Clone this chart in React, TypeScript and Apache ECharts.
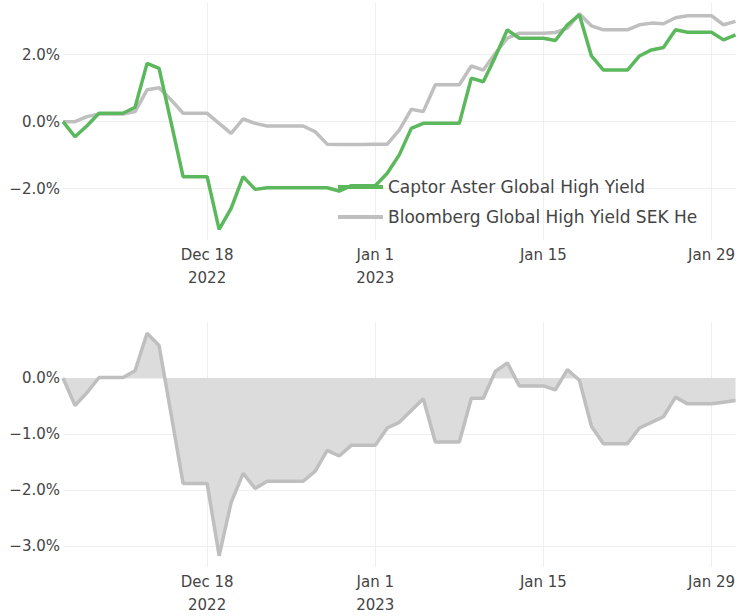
import React, { useEffect, useRef } from "react";
import * as echarts from "echarts";

const dates: string[] = [
  "2022-12-06", "2022-12-07", "2022-12-08", "2022-12-09", "2022-12-10", "2022-12-11", "2022-12-12",
  "2022-12-13", "2022-12-14", "2022-12-15", "2022-12-16", "2022-12-17", "2022-12-18", "2022-12-19",
  "2022-12-20", "2022-12-21", "2022-12-22", "2022-12-23", "2022-12-24", "2022-12-25", "2022-12-26",
  "2022-12-27", "2022-12-28", "2022-12-29", "2022-12-30", "2022-12-31", "2023-01-01", "2023-01-02",
  "2023-01-03", "2023-01-04", "2023-01-05", "2023-01-06", "2023-01-07", "2023-01-08", "2023-01-09",
  "2023-01-10", "2023-01-11", "2023-01-12", "2023-01-13", "2023-01-14", "2023-01-15", "2023-01-16",
  "2023-01-17", "2023-01-18", "2023-01-19", "2023-01-20", "2023-01-21", "2023-01-22", "2023-01-23",
  "2023-01-24", "2023-01-25", "2023-01-26", "2023-01-27", "2023-01-28", "2023-01-29", "2023-01-30",
  "2023-01-31",
];

const captorName = "Captor Aster Global High Yield";
const benchName = "Bloomberg Global High Yield SEK Hedged";

const captor: number[] = [
  0.0, -0.45, -0.12, 0.25, 0.25, 0.25, 0.43, 1.74, 1.59, -0.02, -1.64, -1.64, -1.64, -3.21,
  -2.59, -1.64, -2.02, -1.97, -1.97, -1.97, -1.97, -1.97, -1.97, -2.07, -1.91, -1.91, -1.91, -1.54,
  -0.99, -0.2, -0.05, -0.05, -0.05, -0.05, 1.3, 1.19, 1.94, 2.74, 2.49, 2.49, 2.49, 2.42,
  2.89, 3.19, 1.96, 1.54, 1.54, 1.54, 1.96, 2.14, 2.21, 2.74, 2.67, 2.67, 2.67, 2.44, 2.59,
];

const bench: number[] = [
  0.0, 0.0, 0.15, 0.23, 0.23, 0.23, 0.3, 0.95, 1.01, 0.65, 0.25, 0.25, 0.25, -0.05,
  -0.35, 0.08, -0.05, -0.13, -0.13, -0.13, -0.13, -0.3, -0.67, -0.68, -0.68, -0.68, -0.67, -0.67,
  -0.25, 0.37, 0.3, 1.1, 1.1, 1.1, 1.66, 1.54, 2.04, 2.49, 2.64, 2.64, 2.64, 2.66,
  2.79, 3.22, 2.86, 2.74, 2.74, 2.74, 2.89, 2.94, 2.92, 3.1, 3.16, 3.16, 3.16, 2.89, 2.99,
];

const relative: number[] = [
  0.0, -0.49, -0.26, 0.01, 0.01, 0.01, 0.13, 0.8, 0.58, -0.64, -1.88, -1.88, -1.88, -3.17,
  -2.22, -1.7, -1.97, -1.84, -1.84, -1.84, -1.84, -1.66, -1.29, -1.39, -1.2, -1.2, -1.2, -0.89,
  -0.79, -0.58, -0.37, -1.14, -1.14, -1.14, -0.36, -0.36, 0.12, 0.27, -0.14, -0.14, -0.14, -0.21,
  0.15, -0.04, -0.86, -1.17, -1.17, -1.17, -0.89, -0.79, -0.69, -0.34, -0.46, -0.46, -0.46, -0.43,
  -0.4,
];

const xTickDates: string[] = ["2022-12-18", "2023-01-01", "2023-01-15", "2023-01-29"];
const xTickLabels: string[] = ["Dec 18\n2022", "Jan 1\n2023", "Jan 15", "Jan 29"];
const topYTicks: number[] = [-2, 0, 2];
const bottomYTicks: number[] = [-3, -2, -1, 0];

const toTs = (s: string) => {
  const [y, m, d] = s.split("-").map(Number);
  return Date.UTC(y, m - 1, d);
};

const FONT = "DejaVu Sans";
const TEXT = "#444";
const GRIDC = "#efefef";
const GREEN = "#5cb85c";
const GRAY = "#bfbfbf";

export default function App() {
  const ref = useRef<HTMLDivElement>(null);
  useEffect(() => {
    if (!ref.current) return;
    const chart = echarts.init(ref.current, undefined, { renderer: "svg" });
    const ts = dates.map(toTs);
    const tickTs = xTickDates.map(toTs);
    const fmtX = (v: number) => {
      const i = tickTs.indexOf(v);
      return i >= 0 ? xTickLabels[i] : "";
    };
    const fmtY = (v: number) => (v < 0 ? "\u2212" : "") + Math.abs(v).toFixed(1) + "%";
    const xAxisBase = (gridIndex: number) => ({
      type: "value" as const,
      gridIndex,
      min: ts[0],
      max: ts[ts.length - 1],
      axisLine: { show: false },
      axisTick: { show: false, customValues: tickTs },
      axisLabel: {
        customValues: tickTs,
        formatter: fmtX,
        color: TEXT,
        fontFamily: FONT,
        fontSize: 15,
        lineHeight: 23,
        margin: 3,
      },
      splitLine: { show: true, lineStyle: { color: GRIDC, width: 1 } },
    });
    const yAxisBase = (gridIndex: number, min: number, max: number, ticks: number[]) => ({
      type: "value" as const,
      gridIndex,
      min,
      max,
      axisLine: { show: false },
      axisTick: { show: false, customValues: ticks },
      axisLabel: {
        customValues: ticks,
        formatter: fmtY,
        color: TEXT,
        fontFamily: FONT,
        fontSize: 15,
        margin: 3,
      },
      splitLine: { show: true, lineStyle: { color: GRIDC, width: 1 } },
    });
    chart.setOption({
      animation: false,
      grid: [
        { left: 63, right: 1, top: 3, height: 237 },
        { left: 63, right: 1, top: 322, height: 246 },
      ],
      xAxis: [xAxisBase(0), xAxisBase(1)],
      yAxis: [yAxisBase(0, -3.53, 3.54, topYTicks), yAxisBase(1, -3.37, 1.0, bottomYTicks)],
      legend: {
        data: [captorName, benchName],
        orient: "vertical",
        left: 333,
        top: 172,
        icon: "rect",
        itemWidth: 45,
        itemHeight: 4,
        itemGap: 10,
        textStyle: {
          color: TEXT,
          fontFamily: FONT,
          fontSize: 17,
          lineHeight: 20,
          width: 314,
          overflow: "truncate",
          ellipsis: "",
        },
      },
      series: [
        {
          name: benchName,
          type: "line",
          xAxisIndex: 0,
          yAxisIndex: 0,
          data: ts.map((t, i) => [t, bench[i]]),
          showSymbol: false,
          lineStyle: { color: GRAY, width: 3.5 },
          itemStyle: { color: GRAY },
          z: 2,
        },
        {
          name: captorName,
          type: "line",
          xAxisIndex: 0,
          yAxisIndex: 0,
          data: ts.map((t, i) => [t, captor[i]]),
          showSymbol: false,
          lineStyle: { color: GREEN, width: 3.5 },
          itemStyle: { color: GREEN },
          z: 3,
        },
        {
          name: "Relative",
          type: "line",
          xAxisIndex: 1,
          yAxisIndex: 1,
          data: ts.map((t, i) => [t, relative[i]]),
          showSymbol: false,
          lineStyle: { color: GRAY, width: 3.5 },
          itemStyle: { color: GRAY },
          areaStyle: { color: "#dcdcdc", opacity: 1 },
        },
      ],
    });
    return () => chart.dispose();
  }, []);
  return (
    <div
      ref={ref}
      style={{ position: "fixed", left: 0, top: 0, width: 738, height: 616, background: "#fff" }}
    />
  );
}
